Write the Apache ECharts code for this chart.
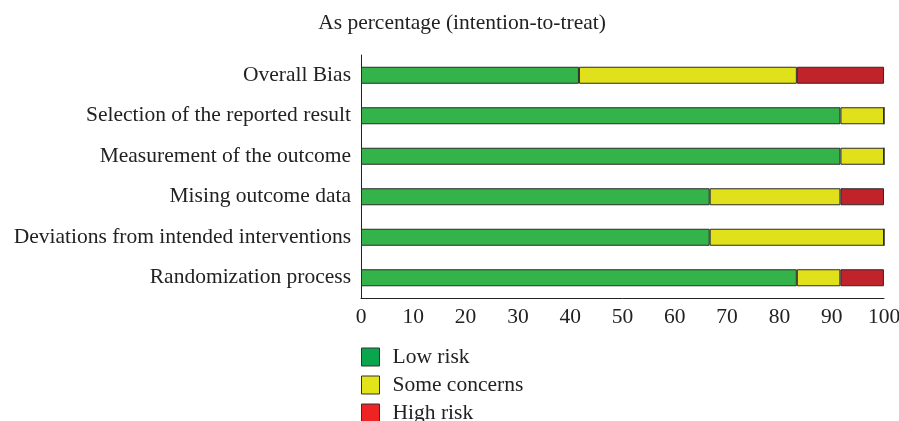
<!DOCTYPE html>
<html>
<head>
<meta charset="utf-8">
<script src="https://cdn.jsdelivr.net/npm/echarts@6/dist/echarts.min.js"></script>
<style>
  html, body { margin: 0; padding: 0; background: #fff; }
  #chart { width: 899px; height: 421px; }
</style>
</head>
<body>
<div id="chart"></div>
<script>
// domains, listed top to bottom
const domains = [
  'Overall Bias',
  'Selection of the reported result',
  'Measurement of the outcome',
  'Mising outcome data',
  'Deviations from intended interventions',
  'Randomization process',
];
const lowRisk = [41.67, 91.67, 91.67, 66.67, 66.67, 83.33];
const someConcerns = [41.67, 8.33, 8.33, 25, 33.33, 8.33];
const highRisk = [16.67, 0, 0, 8.33, 0, 8.33];
const xTicks = [0, 10, 20, 30, 40, 50, 60, 70, 80, 90, 100];

const font = '"Liberation Serif", "DejaVu Serif", serif';
const fs = 21.5;
const chart = echarts.init(document.getElementById('chart'));

function bar(name, data, color) {
  return {
    name,
    type: 'bar',
    stack: 'all',
    data,
    barWidth: 17,
    itemStyle: { color, borderColor: '#2b2b2b', borderWidth: 1 },
  };
}

chart.setOption({
  animation: false,
  textStyle: { fontFamily: font },
  title: {
    text: 'As percentage (intention-to-treat)',
    left: 457,
    top: 7,
    textAlign: 'center',
    textStyle: { fontFamily: font, fontSize: fs, fontWeight: 'normal', color: '#222' },
  },
  legend: {
    orient: 'vertical',
    left: 361,
    top: 346,
    height: 100,
    padding: 0,
    icon: 'rect',
    itemWidth: 18,
    itemHeight: 18,
    itemGap: 6,
    itemStyle: { borderColor: '#333', borderWidth: 1 },
    textStyle: { fontFamily: font, fontSize: fs, color: '#222', padding: [0, 0, 0, 8] },
    data: [
      { name: 'Low risk', itemStyle: { color: '#0aa64e' } },
      { name: 'Some concerns', itemStyle: { color: '#e3e31a' } },
      { name: 'High risk', itemStyle: { color: '#ee2424' } },
    ],
  },
  grid: { left: 361, right: 15, top: 55, bottom: 123, outerBoundsMode: 'none' },
  xAxis: {
    type: 'value',
    min: 0,
    max: 100,
    interval: 10,
    axisLine: { show: true, lineStyle: { color: '#222', width: 1 } },
    axisTick: { show: false },
    splitLine: { show: false },
    axisLabel: {
      fontFamily: font, fontSize: fs, color: '#222', margin: 8,
      formatter: (v) => (xTicks.includes(v) ? String(v) : ''),
    },
  },
  yAxis: {
    type: 'category',
    data: domains,
    inverse: true,
    axisLine: { show: true, lineStyle: { color: '#222', width: 1 } },
    axisTick: { show: false },
    axisLabel: { fontFamily: font, fontSize: fs, color: '#222', margin: 10 },
  },
  series: [
    bar('Low risk', lowRisk, '#34b34a'),
    bar('Some concerns', someConcerns, '#e0e01b'),
    bar('High risk', highRisk, '#c1232a'),
  ],
});
</script>
</body>
</html>
